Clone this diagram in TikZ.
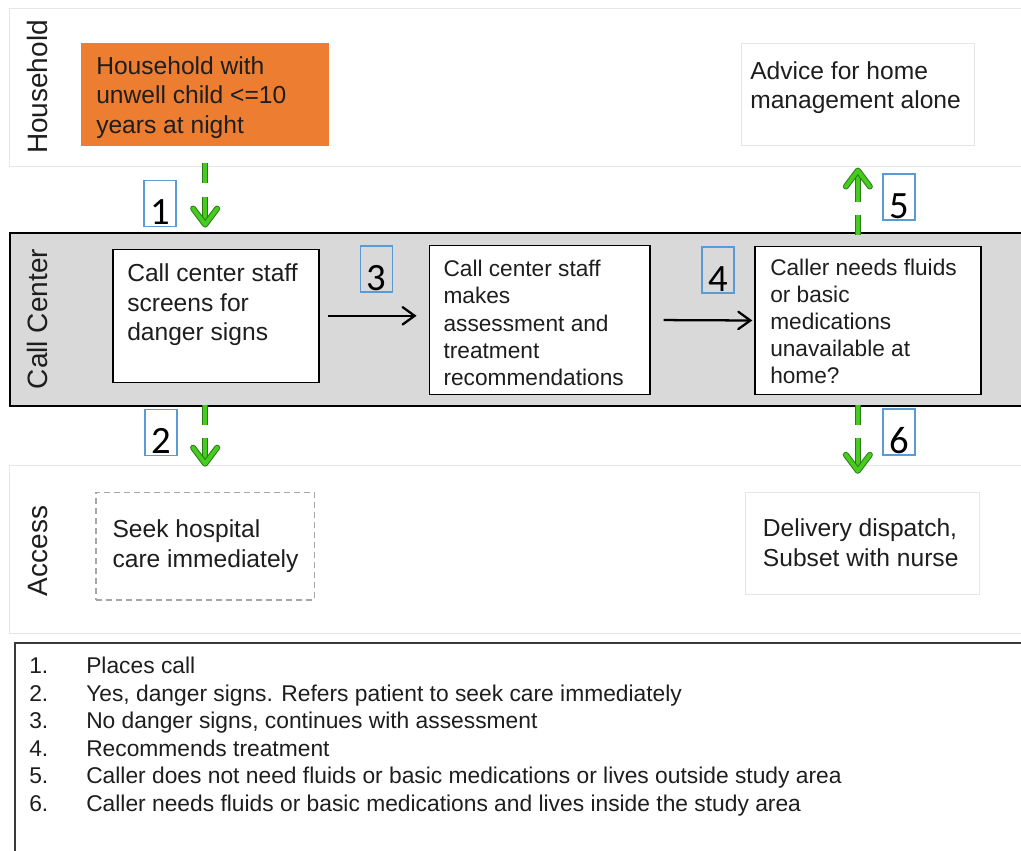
\documentclass[tikz,border=0pt]{standalone}
\usepackage{fontspec}
\setmainfont{Liberation Sans}
\newfontfamily\numfont{Carlito}
\usetikzlibrary{calc,fit,arrows.meta}
\definecolor{textdark}{HTML}{1E1E1E}
\definecolor{lanegray}{HTML}{E6E6E6}
\definecolor{bandfill}{HTML}{D9D9D9}
\definecolor{orangefill}{HTML}{ED7D31}
\definecolor{numblue}{HTML}{5B9BD5}
\definecolor{gfill}{HTML}{45CC1E}
\definecolor{gdark}{HTML}{2C7A17}
\definecolor{dashgray}{HTML}{A6A6A6}
\definecolor{legframe}{HTML}{3A3A3A}
\begin{document}
\begin{tikzpicture}[x=0.75pt,y=-0.75pt,
 lane/.style={draw=lanegray, line width=0.75pt, inner sep=0pt},
 band/.style={draw=black, fill=bandfill, line width=1.1pt, inner sep=0pt},
 flowbox/.style={draw=black, fill=white, line width=1.1pt, inner sep=0pt},
 softbox/.style={draw=lanegray, fill=white, line width=0.75pt, inner sep=0pt},
 seekbox/.style={draw=dashgray, fill=white, line width=0.9pt, dash pattern=on 4.5pt off 3pt, inner sep=0pt},
 orangebox/.style={fill=orangefill, draw=none, inner sep=0pt},
 bigtxt/.style={font=\fontsize{18.45}{22.1}\selectfont, text=textdark, align=left, inner sep=0pt, anchor=north west},
 smalltxt/.style={font=\fontsize{17}{20.3}\selectfont, text=textdark, align=left, inner sep=0pt, anchor=north west},
 lanelabel/.style={font=\fontsize{21}{24}\selectfont, text=textdark, rotate=90, inner sep=0pt},
 numbox/.style={draw=numblue, line width=1.4pt, minimum width=24pt, minimum height=34.5pt, inner sep=0pt, text height=31.5pt, text depth=0pt, font=\numfont\fontsize{29}{30}\selectfont},
 gshaft/.style={draw=gdark, double=gfill, line width=0.75pt, double distance=3pt, dash pattern=on 15pt off 10pt on 300pt},
 gchev/.style={draw=gdark, double=gfill, line width=0.75pt, double distance=3pt, line join=round, line cap=round},
 flowarrow/.style={draw=black, line width=1.7pt, -{Straight Barb[length=9pt,width=13pt,line cap=round]}},
 legtxt/.style={font=\fontsize{17.1}{20.7}\selectfont, text=textdark, anchor=base west, inner sep=0pt},
]
\useasboundingbox (0,0) rectangle (1021,850);
\fill[white] (0,0) rectangle (1021,850);

% lanes
\node[lane, fit={(9.5,8) (1040,166)}] (hhlane) {};
\node[band, fit={(10,233) (1040,406)}] (cclane) {};
\node[lane, fit={(9.5,465) (1040,633)}] (aclane) {};
\node[lanelabel] (hhlabel) at (37.5,87) {Household};
\node[lanelabel] (cclabel) at (37,319) {Call Center};
\node[lanelabel] (aclabel) at (38.5,551) {Access};

% boxes
\node[orangebox, fit={(81,43.3) (329.3,146)}] (orange) {};
\node[softbox, fit={(741.7,43.3) (974,145)}] (advice) {};
\node[flowbox, fit={(113,249.3) (319,382.3)}] (boxA) {};
\node[flowbox, fit={(429.3,245.7) (650,394.3)}] (boxB) {};
\node[flowbox, fit={(755,246.7) (981,394.3)}] (boxC) {};
\node[seekbox, fit={(96,492.3) (314.3,600)}] (seek) {};
\node[softbox, fit={(745,492.3) (979,594)}] (delivery) {};

% texts
\node[bigtxt] (tOrange) at (96,53.35) {\strut Household with\\unwell child <=10\\years at night};
\node[bigtxt] (tAdvice) at (750,58.35) {\strut Advice for home\\management alone};
\node[bigtxt] (tA) at (127,261.05) {\strut Call center staff\\screens for\\danger signs};
\node[smalltxt] (tB) at (443.3,257.7) {\strut Call center staff\\makes\\assessment and\\treatment\\recommendations};
\node[smalltxt] (tC) at (770,256) {\strut Caller needs fluids\\or basic\\medications\\unavailable at\\home?};
\node[bigtxt] (tSeek) at (112.3,516.65) {\strut Seek hospital\\care immediately};
\node[bigtxt] (tDel) at (762.7,516.05) {\strut Delivery dispatch,\\Subset with nurse};

% black arrows
\draw[flowarrow, shorten <=6pt, shorten >=9pt] (boxA.east) -- (boxA.east -| boxB.west);
\draw[flowarrow, shorten <=9.75pt, shorten >=1.5pt] (boxB.east) -- (boxC.west);

% green arrows
\coordinate (t1) at ($(orange.south |- boxA.north)+(0,-24)$);
\draw[gshaft, shorten <=12.75pt] (orange.south) -- (t1);
\draw[gchev] ($(t1)+(-12,-16)$) -- (t1) -- ($(t1)+(12,-16)$);

\coordinate (t2) at ($(seek.north)+(0,-28)$);
\draw[gshaft, shorten <=16.3pt] (seek.north |- boxA.south) -- (t2);
\draw[gchev] ($(t2)+(-12,-16)$) -- (t2) -- ($(t2)+(12,-16)$);

\coordinate (t5) at ($(advice.south)+(0,25)$);
\draw[gshaft, shorten <=8pt] (advice.south |- boxC.north) -- (t5);
\draw[gchev] ($(t5)+(-12,16)$) -- (t5) -- ($(t5)+(12,16)$);

\coordinate (t6) at ($(advice.south |- delivery.north)+(0,-21)$);
\draw[gshaft, shorten <=7.3pt] (advice.south |- boxC.south) -- (t6);
\draw[gchev] ($(t6)+(-12,-16)$) -- (t6) -- ($(t6)+(12,-16)$);

% number boxes
\node[numbox] (n1) at (160,203.5) {1};
\node[numbox] (n2) at (161,432.5) {2};
\node[numbox] (n3) at (376.5,269) {3};
\node[numbox] (n4) at (718,270) {4};
\node[numbox] (n5) at (899,197) {5};
\node[numbox] (n6) at (899,432) {6};

% legend
\node[draw=legframe, line width=1.3pt, inner sep=0pt, fit={(15,643) (1040,870)}] (legend) {};
\foreach \i/\t/\y in {1/{Places call}/673,
  2/{Yes, danger signs. Refers patient to seek care immediately}/701,
  3/{No danger signs, continues with assessment}/728,
  4/{Recommends treatment}/756,
  5/{Caller does not need fluids or basic medications or lives outside study area}/783,
  6/{Caller needs fluids or basic medications and lives inside the study area}/811}{
  \node[legtxt] (ln\i) at (29,\y) {\i.};
  \node[legtxt] (lt\i) at (86,\y) {\t};
}
\end{tikzpicture}
\end{document}
